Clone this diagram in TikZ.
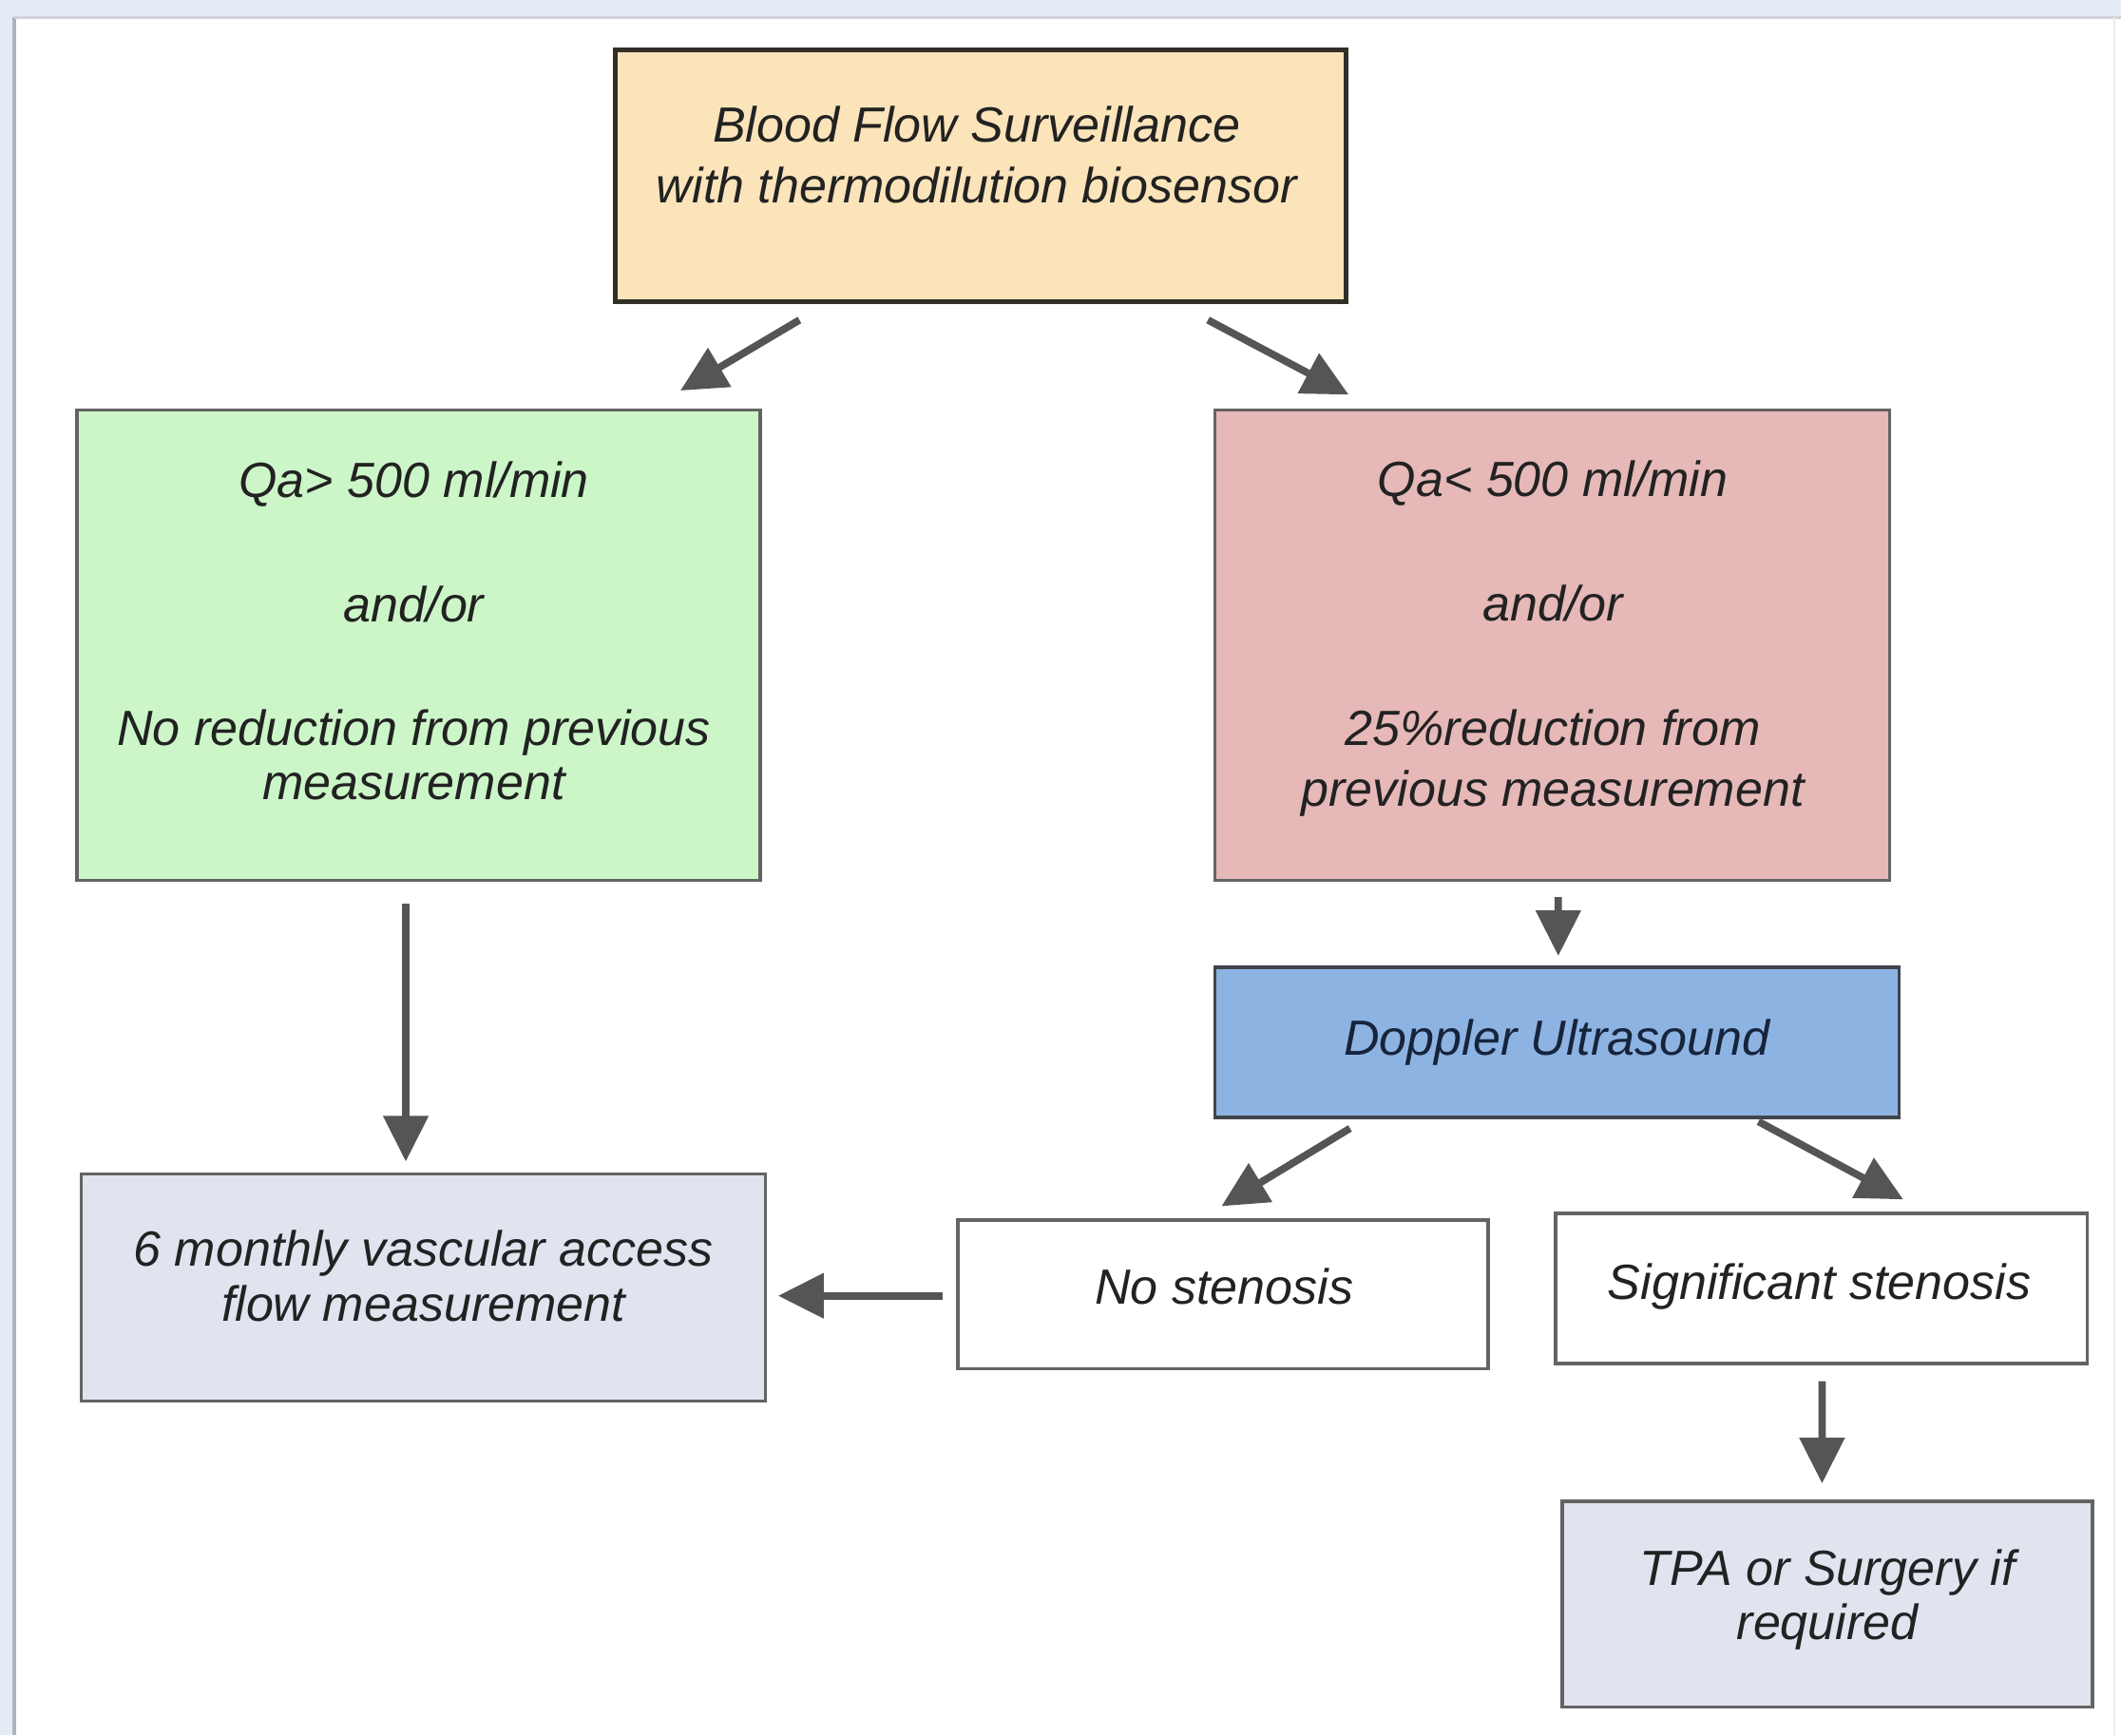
\documentclass[tikz,border=0pt]{standalone}
\usepackage{fontspec}
\setmainfont{Liberation Sans}
\usetikzlibrary{arrows.meta,calc}
\definecolor{cOrange}{RGB}{252,228,186}
\definecolor{cGreen}{RGB}{204,246,200}
\definecolor{cPink}{RGB}{230,184,184}
\definecolor{cBlue}{RGB}{141,179,226}
\definecolor{cGrayBlue}{RGB}{223,228,239}
\definecolor{cBorder}{RGB}{100,100,100}
\definecolor{cDark}{RGB}{50,46,40}
\definecolor{cArrow}{RGB}{85,85,85}
\definecolor{cText}{RGB}{34,34,34}
\definecolor{cNavy}{RGB}{22,36,60}
\definecolor{frameBg}{RGB}{228,236,246}
\definecolor{frameLine}{RGB}{176,180,188}
\def\u{0.14235mm}
\begin{document}
\begin{tikzpicture}[x=0.14235mm,y=-0.14235mm,
  box/.style={draw=cBorder, line width=1pt, inner sep=0pt},
  txt/.style={align=center, text=cText, inner sep=0pt},
  arr/.style={draw=cArrow, line width=2.2pt, -{Triangle[length=4.8mm,width=4.6mm]}}]
\useasboundingbox (0,0) rectangle (1568,1283);
\fill[white] (0,0) rectangle (1568,1283);
\fill[frameBg] (0,0) rectangle (1568,13);
\fill[frameBg] (0,0) rectangle (9,1283);
\draw[frameLine, line width=1pt] (10.5,13) -- (10.5,1283);
\draw[frameLine!60, line width=0.8pt] (10.5,13) -- (1568,13);
\draw[frameLine!25, line width=0.8pt] (1563,13) -- (1563,1283);

% boxes
\node[box, fill=cOrange, draw=cDark, line width=1.3pt, minimum width=540*\u, minimum height=186*\u] (top) at (725,130) {};
\node[box, fill=cGreen, minimum width=505*\u, minimum height=348*\u] (green) at (309.5,477) {};
\node[box, fill=cPink, minimum width=499*\u, minimum height=348*\u] (pink) at (1147.5,477) {};
\node[box, fill=cBlue, draw=cBorder!80!cBlue!60!black, minimum width=506*\u, minimum height=111*\u] (dopp) at (1151,770.5) {};
\node[box, fill=white, minimum width=392*\u, minimum height=110*\u] (nost) at (904,957) {};
\node[box, fill=white, minimum width=393*\u, minimum height=111*\u] (sigst) at (1346.5,952.5) {};
\node[box, fill=cGrayBlue, minimum width=506*\u, minimum height=168*\u] (six) at (313,952) {};
\node[box, fill=cGrayBlue, minimum width=392*\u, minimum height=152*\u] (tpa) at (1351,1186) {};

% texts
\node[txt, font=\fontsize{14.8}{18.2}\selectfont\itshape] (ttop) at (722,114.5) {Blood Flow Surveillance\\with thermodilution biosensor};
\node[txt, font=\fontsize{14.8}{16.2}\selectfont\itshape] (tgreen) at (306,466.5) {Qa> 500 ml/min\\[21pt]and/or\\[21pt]No reduction from previous\\measurement};
\node[txt, font=\fontsize{14.8}{18.2}\selectfont\itshape] (tpink) at (1148,472) {Qa< 500 ml/min\\[19pt]and/or\\[19pt]25\%reduction from\\previous measurement};
\node[txt, text=cNavy, font=\fontsize{14.8}{18.2}\selectfont\itshape] (tdopp) at (1151,771) {Doppler Ultrasound};
\node[txt, font=\fontsize{14.8}{18.2}\selectfont\itshape] (tnost) at (905,951) {No stenosis};
\node[txt, font=\fontsize{14.8}{18.2}\selectfont\itshape] (tsigst) at (1345,951) {Significant stenosis};
\node[txt, font=\fontsize{14.8}{16.6}\selectfont\itshape] (tsix) at (313,943.5) {6 monthly vascular access\\flow measurement};
\node[txt, font=\fontsize{14.8}{16.2}\selectfont\itshape] (ttpa) at (1351,1183) {TPA or Surgery if\\required};

% connectors
\draw[arr] ($(top.south)+(-134,12)$) -- ($(green.north)+(193.5,-13)$);
\draw[arr] ($(top.south)+(168,12)$) -- ($(pink.north)+(-150.5,-10)$);
\draw[arr] ($(green.south)+(-9.5,16)$) -- ($(six.north)+(-13,-8)$);
\draw[arr] ($(pink.south)+(4.5,11)$) -- ($(dopp.north)+(1,-7)$);
\draw[arr] ($(dopp.south)+(-153,7)$) -- ($(nost.north)+(-1,-9)$);
\draw[arr] ($(dopp.south)+(149,2)$) -- ($(sigst.north)+(60.5,-9)$);
\draw[arr] ($(nost.west)+(-10,1)$) -- ($(six.east)+(8,6)$);
\draw[arr] ($(sigst.south)+(0.5,12)$) -- ($(tpa.north)+(-4,-12)$);
\end{tikzpicture}
\end{document}
